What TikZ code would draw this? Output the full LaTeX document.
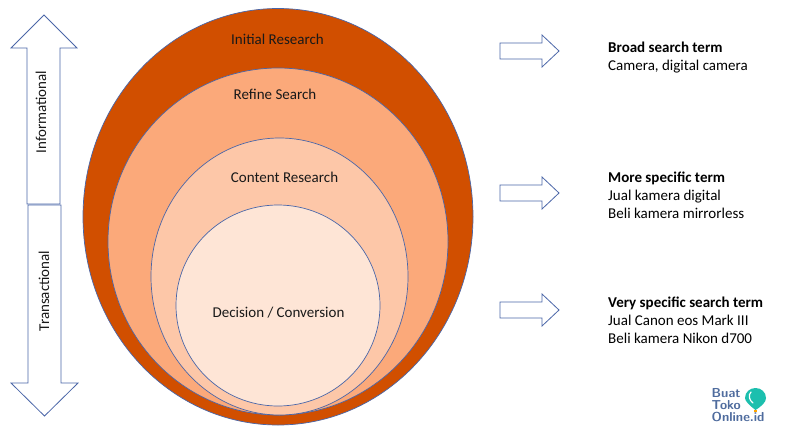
\documentclass[tikz,border=0pt]{standalone}
\usepackage{fontspec}
\setmainfont{Carlito}
\definecolor{ln}{HTML}{4A66A8}
\definecolor{c1}{HTML}{D14F00}
\definecolor{c2}{HTML}{FBA97A}
\definecolor{c3}{HTML}{FDC7A8}
\definecolor{c4}{HTML}{FEE5D6}
\definecolor{lg}{HTML}{4F6C9E}
\definecolor{tl}{HTML}{1CBFAE}
\tikzset{
 ell/.style={ellipse,draw=ln,line width=0.7pt,inner sep=0pt,minimum width=#1},
 shapeln/.style={draw=ln,line width=0.8pt,fill=white,line join=miter},
 lab/.style={font=\fontsize{15}{17}\selectfont,text=black!90,inner sep=0pt},
 side/.style={font=\fontsize{15}{18}\selectfont,text=black,inner sep=0pt,align=left,anchor=north west},
}
\usetikzlibrary{shapes.geometric}
\begin{document}
\begin{tikzpicture}[x=1pt,y=-1pt]
\useasboundingbox (0,0) rectangle (792,434);
\fill[white] (0,0) rectangle (792,434);
\node[ell=390pt,minimum height=416.5pt,fill=c1] (e1) at (278,216.75) {};
\node[ell=340pt,minimum height=347pt,fill=c2] (e2) at (278,241.5) {};
\node[ell=257pt,minimum height=277pt,fill=c3] (e3) at (279.5,276.5) {};
\node[ell=204pt,minimum height=201pt,fill=c4] (e4) at (278,305.5) {};
\node[lab] (t1) at (277.5,39) {Initial Research};
\node[lab] (t2) at (275,94.5) {Refine Search};
\node[lab] (t3) at (284.5,177) {Content Research};
\node[lab] (t4) at (278.5,312.5) {Decision / Conversion};
% vertical arrows
\draw[shapeln] (44,15) -- (77,48) -- (60,48) -- (60,204) -- (27,204) -- (27,48) -- (11,48) -- cycle;
\draw[shapeln] (28,205) -- (61,205) -- (61,383) -- (78,383) -- (44.5,416) -- (11,383) -- (28,383) -- cycle;
\node[lab,rotate=90] (inf) at (41,112) {Informational};
\node[lab,rotate=90] (tra) at (44,291) {Transactional};
% right arrows
\foreach \n/\d in {a/0,b/142,c/259}{
 \draw[shapeln,yshift=-\d pt] (500,43) -- (542,43) -- (542,35) -- (559,51) -- (542,67) -- (542,59) -- (500,59) -- cycle;
}
\node[side] (s1) at (608,42) {\textbf{Broad search term}\\Camera, digital camera};
\node[side] (s2) at (608,171.5) {\textbf{More specific term}\\Jual kamera digital\\Beli kamera mirrorless};
\node[side] (s3) at (608,297) {\textbf{Very specific search term}\\Jual Canon eos Mark III\\Beli kamera Nikon d700};
% logo
\fill[tl] (755.5,410) .. controls (749,405) and (745,401) .. (745,398) .. controls (745,392) and (750,388) .. (755.5,388) .. controls (761,388) and (766,392) .. (766,398) .. controls (766,402) and (762,406) .. (755.5,410) -- cycle;
\draw[white,line width=1.2pt,line cap=round] (751,392) .. controls (748,395) and (749,400) .. (753,403);
\fill[orange!70!yellow] (754,410) rectangle (757,412);
\node[font=\sffamily\bfseries\fontsize{13}{12}\selectfont,text=lg,align=left,inner sep=0pt,anchor=north west] (logo) at (711.5,388) {Buat\\Toko\\Online.id};
\end{tikzpicture}
\end{document}
